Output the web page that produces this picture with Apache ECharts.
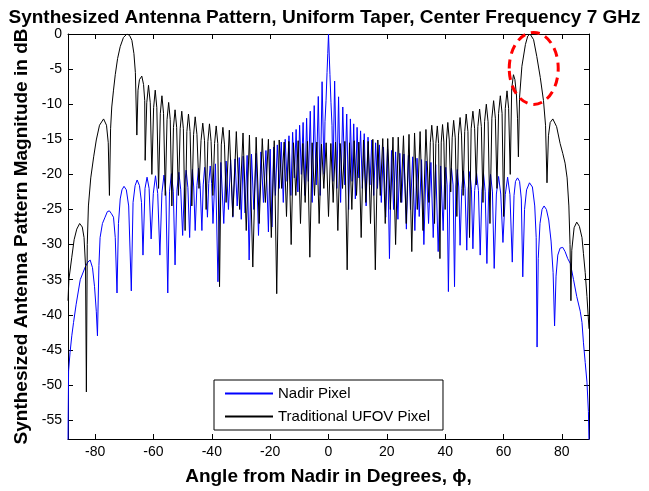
<!DOCTYPE html>
<html>
<head>
<meta charset="utf-8">
<script src="https://cdn.jsdelivr.net/npm/echarts@6/dist/echarts.min.js"></script>
<style>
  html, body { margin: 0; padding: 0; background: #fff; }
  #chart { width: 649px; height: 491px; }
</style>
</head>
<body>
<div id="chart"></div>
<script>
// tick labels
const xTicks = [-80, -60, -40, -20, 0, 20, 40, 60, 80];
const yTicks = [0, -5, -10, -15, -20, -25, -30, -35, -40, -45, -50, -55];
const seriesNames = ['Nadir Pixel', 'Traditional UFOV Pixel'];

// [angle in degrees, magnitude in dB] (peaks, nulls, a few shoulders)
const nadirPixel = [
  [-89.3,-58],[-89.25,-55],[-89.1,-48],[-88.6,-45.4],[-88.0,-43.0],[-87.4,-41.1],[-86.5,-38.5],[-85.1,-35],
  [-83.4,-33.2],[-82.5,-32.5],[-81.7,-32.2],[-80.9,-33.3],[-80.2,-36],[-79.6,-39.5],[-79.2,-43],[-78.7,-33],
  [-78.3,-29],[-77.5,-27],[-76.6,-26.1],[-75.8,-25.3],[-75.1,-25.2],[-74.4,-25.6],[-73.7,-26.1],[-73.1,-29],
  [-72.5,-36.9],[-72.0,-27],[-71.4,-23.5],[-70.8,-22.2],[-70.1,-21.7],[-69.3,-22.2],[-68.5,-24.5],[-67.6,-36.6],
  [-67.0,-24],[-66.3,-21.6],[-65.6,-20.8],[-64.8,-21.6],[-64.1,-24],[-63.6,-31.5],[-62.9,-22],[-62.2,-20.4],
  [-61.5,-22],[-60.8,-29.2],[-60.05,-22.7],[-59.3,-20.2],[-58.55,-22.7],[-57.8,-31.5],[-57.1,-22.6],[-56.4,-20.1],
  [-55.75,-22.6],[-55.1,-36.9],[-54.5,-22.4],[-53.85,-19.9],[-53.2,-22.4],[-52.6,-32.9],[-51.95,-22.2],[-51.3,-19.7],
  [-50.65,-22.2],[-50.0,-28.7],[-49.4,-21.9],[-48.8,-19.4],[-48.2,-21.9],[-47.6,-29],[-47.1,-21.8],[-46.65,-19.3],
  [-46.2,-21.8],[-45.7,-28],[-45.1,-21.6],[-44.55,-19.1],[-44.0,-21.6],[-43.4,-28],[-42.95,-21.5],[-42.45,-19.0],
  [-41.95,-21.5],[-41.5,-26.1],[-41.05,-21.3],[-40.55,-18.8],[-40.05,-21.3],[-39.6,-27],[-38.75,-18.5],[-37.9,-35.3],
  [-36.9,-18.3],[-35.9,-27],[-35.1,-18.1],[-34.3,-25],[-33.55,-17.9],[-32.8,-26.1],[-32.05,-17.8],[-31.3,-24.5],
  [-30.6,-17.6],[-29.9,-26.4],[-29.25,-17.4],[-28.6,-25.5],[-27.9,-17.3],[-27.2,-32.2],[-26.4,-17.1],[-25.6,-25],
  [-24.8,-17.0],[-24.0,-28.7],[-23.15,-16.8],[-22.3,-24],[-21.45,-16.6],[-20.6,-28.2],[-20.0,-16.4],[-19.4,-27.5],
  [-18.8,-16.1],[-18.2,-23],[-17.55,-15.8],[-16.9,-22],[-16.2,-15.4],[-15.5,-24],[-14.85,-15.0],[-14.2,-21],
  [-13.55,-14.5],[-12.9,-23],[-12.3,-14.0],[-11.7,-20.5],[-11.1,-13.6],[-10.5,-22.5],[-9.9,-13.0],[-9.3,-20],
  [-8.7,-12.6],[-8.1,-23],[-7.5,-12.0],[-6.9,-21],[-6.25,-11.0],[-5.6,-24],[-4.9,-10.2],[-4.2,-21.5],
  [-3.5,-8.9],[-2.85,-23],[-2.2,-6.8],[-1.5,-20],[-1.2,-12.5],[-0.85,-9.5],[-0.5,-5.5],[-0.25,-2.8],
  [0,0],[0.25,-3],[0.5,-5.8],[0.85,-9.8],[1.2,-13],[1.5,-21],[2.1,-6.7],[2.85,-22],
  [3.45,-8.95],[4.15,-24],[4.9,-10.4],[5.6,-21.5],[6.25,-11.4],[6.9,-25],[7.5,-12.1],[8.1,-21],
  [8.65,-12.8],[9.2,-23.5],[9.8,-13.3],[10.4,-20.5],[11.0,-13.8],[11.6,-22],[12.25,-14.2],[12.9,-24.5],
  [13.55,-14.7],[14.2,-21.5],[14.85,-15.1],[15.5,-23],[16.15,-15.5],[16.8,-22],[17.45,-15.8],[18.1,-24],
  [18.85,-16.1],[19.6,-26.1],[20.25,-16.4],[20.9,-32],[21.6,-16.6],[22.3,-25],[23.0,-16.8],[23.8,-26.4],
  [24.45,-17.0],[25.1,-24],[25.85,-17.1],[26.7,-27.8],[27.4,-17.3],[28.1,-25],[28.85,-17.5],[29.6,-28],
  [30.35,-17.7],[31.1,-26],[31.9,-17.9],[32.7,-30],[33.5,-18.1],[34.3,-27],[35.1,-18.3],[35.9,-29],
  [36.75,-18.6],[37.6,-31],[38.45,-18.8],[39.3,-28],[39.75,-21.5],[40.2,-19.0],[40.65,-21.5],[41.1,-36.7],
  [41.6,-21.5],[42.15,-19.1],[42.7,-21.5],[43.2,-36],[43.65,-21.8],[44.15,-19.3],[44.65,-21.8],[45.1,-30.1],
  [45.7,-22],[46.25,-19.5],[46.8,-22],[47.4,-30.8],[47.9,-22.1],[48.45,-19.6],[49.0,-22.1],[49.5,-30.6],
  [50.1,-22.3],[50.75,-19.8],[51.4,-22.3],[52.0,-31.5],[52.6,-22.4],[53.15,-19.9],[53.7,-22.4],[54.3,-32.7],
  [54.9,-22.5],[55.55,-20.0],[56.2,-22.5],[56.8,-33.4],[57.55,-22.8],[58.3,-20.3],[59.05,-22.8],[59.8,-29.7],
  [60.6,-22.9],[61.4,-20.4],[62.2,-22.9],[63.0,-32.5],[63.6,-23],[64.1,-21],[64.8,-20.5],[65.5,-21],
  [66.1,-23.5],[66.6,-34.6],[67.2,-25],[67.9,-22.2],[68.9,-21.2],[69.9,-21.8],[70.7,-24.5],[71.2,-29],
  [71.5,-44.6],[71.9,-32],[72.5,-27],[73.2,-25],[73.9,-24.5],[74.7,-25],[75.5,-26.5],[76.3,-29.5],
  [77.0,-34],[77.5,-41.6],[78.0,-34.5],[78.6,-31.5],[79.4,-30.5],[80.3,-30.4],[81.1,-31.0],[82.0,-32],
  [82.9,-32.7],[84.0,-35],[85.1,-37.4],[86.3,-39.5],[86.9,-41.1],[87.4,-44],[88.0,-46.8],[88.6,-49.6],
  [89.1,-53.8],[89.3,-58]
];

const ufovPixel = [
  [-89.3,-38],[-89.0,-35],[-88.0,-31.8],[-87.2,-29.3],[-86.3,-27.8],[-85.3,-27.0],[-84.4,-27.5],[-83.8,-29],
  [-83.3,-33],[-83.0,-51],[-82.7,-30],[-82.3,-24.5],[-81.5,-20.5],[-80.5,-17.5],[-79.6,-15.1],[-78.5,-13],
  [-77.1,-12.1],[-76.1,-13],[-75.5,-15.5],[-75.1,-23],[-74.7,-13.5],[-74.3,-10.4],[-73.7,-8],[-73.1,-5.8],
  [-72.3,-3.5],[-71.4,-1.8],[-70.3,-0.5],[-69.1,0],[-68.2,-0.2],[-67.4,-0.9],[-66.7,-2.8],[-66.2,-5.5],
  [-65.7,-14.4],[-65.3,-8],[-64.8,-6.5],[-64.0,-6.0],[-63.4,-7.2],[-63.0,-9.5],[-62.85,-18],[-62.3,-9.8],
  [-61.7,-7.3],[-61.1,-9.8],[-60.55,-20],[-59.95,-10.5],[-59.4,-8.0],[-58.85,-10.5],[-58.25,-22],[-57.65,-11.3],
  [-57.1,-8.8],[-56.55,-11.3],[-55.95,-23],[-55.35,-12.2],[-54.8,-9.75],[-54.25,-12.2],[-53.7,-24.5],[-53.15,-13.3],
  [-52.6,-10.8],[-52.05,-13.3],[-51.45,-23],[-50.85,-13.5],[-50.3,-11],[-49.75,-13.5],[-49.15,-28],[-48.55,-13.9],
  [-48.0,-11.4],[-47.45,-13.9],[-46.85,-24.5],[-46.25,-14.3],[-45.7,-11.8],[-45.1,-14.3],[-44.4,-22],[-43.7,-15.2],
  [-43.1,-12.7],[-42.5,-15.2],[-41.95,-25],[-41.35,-15.3],[-40.8,-12.8],[-40.25,-15.3],[-39.65,-23],[-39.05,-15.6],
  [-38.5,-13.1],[-37.95,-15.6],[-37.35,-36],[-36.75,-15.8],[-36.2,-13.3],[-35.65,-15.8],[-35.1,-24],[-34.0,-13.7],
  [-32.8,-26],[-31.6,-13.9],[-30.45,-25],[-29.3,-14.1],[-28.2,-28],[-27.1,-14.4],[-25.95,-33.2],[-24.8,-14.7],
  [-23.75,-27],[-22.7,-14.9],[-21.65,-24],[-20.6,-15.0],[-19.6,-29],[-18.6,-15.2],[-17.75,-37],[-16.9,-15.1],
  [-16.05,-22],[-15.2,-15.4],[-14.4,-26],[-13.6,-15.3],[-12.8,-30],[-12.0,-15.5],[-11.2,-23],[-10.4,-15.2],
  [-9.6,-27],[-8.8,-15.6],[-8.0,-24],[-7.2,-15.3],[-6.4,-31.8],[-5.6,-15.5],[-4.8,-23],[-4.0,-15.4],
  [-3.2,-27],[-2.4,-15.7],[-1.6,-22],[-0.8,-15.5],[0,-26],[0.8,-15.6],[1.6,-24],[2.4,-15.4],
  [3.2,-28],[4.0,-15.6],[4.8,-22],[5.6,-15.3],[6.4,-33.6],[7.2,-15.5],[8.0,-25],[8.8,-15.2],
  [9.6,-23],[10.4,-15.4],[11.2,-29],[12.0,-15.1],[12.8,-24],[13.6,-15.3],[14.4,-27],[15.2,-15.0],
  [16.05,-33.6],[16.9,-15.1],[17.75,-23],[18.6,-14.9],[19.45,-27],[20.3,-14.9],[21.2,-25],[22.1,-14.7],
  [23.0,-30],[23.9,-14.7],[24.8,-24],[25.7,-14.5],[26.65,-27],[27.6,-14.3],[28.55,-31],[29.5,-14.1],
  [30.45,-25],[31.4,-13.9],[32.4,-28],[33.4,-13.6],[34.4,-24],[34.9,-15.5],[35.4,-13.0],[35.9,-15.5],
  [36.35,-27],[36.8,-15.6],[37.3,-13.1],[37.75,-15.6],[38.2,-32],[38.65,-15.4],[39.1,-12.9],[39.55,-15.4],
  [40.0,-25],[40.45,-15.1],[40.9,-12.6],[41.4,-15.1],[41.9,-22.5],[42.4,-14.8],[42.9,-12.3],[43.45,-14.8],
  [44.0,-26],[44.55,-14.4],[45.1,-11.9],[45.6,-14.4],[46.15,-23],[46.7,-13.9],[47.2,-11.4],[47.8,-13.9],
  [48.35,-29],[48.9,-13.5],[49.5,-11.0],[50.1,-13.5],[50.65,-21.5],[51.2,-13.2],[51.8,-10.7],[52.4,-13.2],
  [52.95,-24],[53.5,-12.5],[54.1,-10.0],[54.7,-12.5],[55.35,-27],[56.0,-12.0],[56.6,-9.5],[57.2,-12.0],
  [57.75,-22],[58.3,-11.3],[58.9,-8.8],[59.5,-11.3],[60.05,-26],[60.6,-10.6],[61.2,-8.1],[61.75,-10.6],
  [62.3,-20],[62.8,-7.8],[63.4,-5.8],[63.9,-6.5],[64.4,-8.5],[64.8,-12],[65.1,-17.5],[65.5,-9],
  [66.3,-4.6],[67.5,-1.5],[68.3,-0.3],[69.1,0],[70.3,-0.8],[71.4,-3.2],[72.6,-6.2],[73.7,-9.5],
  [74.4,-13],[74.9,-21.2],[75.4,-14.5],[76.0,-12.6],[76.9,-12.1],[78.2,-13.2],[79.4,-15.6],[80.3,-17.0],
  [81.1,-18.4],[81.8,-20.5],[82.4,-24.5],[82.8,-30],[83.1,-38],[83.4,-30.8],[84.2,-27.6],[85.1,-26.8],
  [86.0,-27.4],[86.9,-29],[87.4,-31.3],[88.0,-34],[88.6,-37.4],[89.3,-42]
];

const font = '"Liberation Sans", Arial, Helvetica, sans-serif';
const chart = echarts.init(document.getElementById('chart'));

// shared look of the boxed MATLAB-style axes (ticks pointing inward)
function boxAxis(ticks, withLabels) {
  return {
    type: 'value',
    axisLine: { show: true, onZero: false, lineStyle: { color: '#000', width: 1 } },
    axisTick: { show: true, inside: true, length: 5, customValues: ticks, lineStyle: { color: '#000' } },
    axisLabel: {
      show: withLabels, customValues: ticks, color: '#000', fontSize: 14, fontFamily: font, margin: 6
    },
    splitLine: { show: false }
  };
}

const xMin = -89.3, xMax = 89.3, yMin = -57.7, yMax = 0;

const option = {
  animation: false,
  backgroundColor: '#fff',
  title: {
    text: 'Synthesized Antenna Pattern, Uniform Taper, Center Frequency 7 GHz',
    left: 'center',
    top: 3,
    textStyle: { color: '#000', fontSize: 19, fontWeight: 'bold', fontFamily: font }
  },
  grid: { left: 68, right: 60, top: 34, bottom: 46.5, containLabel: false },
  legend: {
    data: seriesNames,
    orient: 'vertical',
    left: 214,
    top: 380,
    padding: [5, 13, 5, 10],
    itemGap: 6,
    itemWidth: 48,
    itemHeight: 14,
    itemStyle: { opacity: 0 },
    backgroundColor: '#fff',
    borderColor: '#000',
    borderWidth: 1,
    borderRadius: 0,
    textStyle: { color: '#000', fontSize: 15, lineHeight: 17, fontFamily: font }
  },
  xAxis: [
    Object.assign(boxAxis(xTicks, true), {
      min: xMin, max: xMax, position: 'bottom',
      name: 'Angle from Nadir in Degrees, ϕ,',
      nameLocation: 'middle', nameGap: 28,
      nameTextStyle: { color: '#000', fontSize: 19, fontWeight: 'bold', fontFamily: font }
    }),
    Object.assign(boxAxis(xTicks, false), { min: xMin, max: xMax, position: 'top' })
  ],
  yAxis: [
    Object.assign(boxAxis(yTicks, true), {
      min: yMin, max: yMax, position: 'left',
      name: 'Synthesized Antenna Pattern Magnitude in dB',
      nameLocation: 'middle', nameGap: 36, nameRotate: 90,
      nameTextStyle: { color: '#000', fontSize: 19, fontWeight: 'bold', fontFamily: font }
    }),
    Object.assign(boxAxis(yTicks, false), { min: yMin, max: yMax, position: 'right' })
  ],
  series: [
    {
      name: seriesNames[0], type: 'line', data: nadirPixel,
      xAxisIndex: 0, yAxisIndex: 0, symbol: 'none', clip: true,
      lineStyle: { color: '#0000ff', width: 1 }, itemStyle: { color: '#0000ff' }
    },
    {
      name: seriesNames[1], type: 'line', data: ufovPixel,
      xAxisIndex: 0, yAxisIndex: 0, symbol: 'none', clip: true,
      lineStyle: { color: '#000', width: 1 }, itemStyle: { color: '#000' }
    }
  ]
};

chart.setOption(option);

// red dashed ellipse highlighting the right-hand UFOV main beam
const c = chart.convertToPixel({ xAxisIndex: 0, yAxisIndex: 0 }, [70.35, -4.9]);
chart.setOption({
  graphic: [{
    type: 'ellipse',
    shape: { cx: c[0], cy: c[1], rx: 24.5, ry: 36 },
    style: { fill: 'none', stroke: '#ff0000', lineWidth: 3, lineDash: [9, 6] },
    z: 100
  }]
});
</script>
</body>
</html>
